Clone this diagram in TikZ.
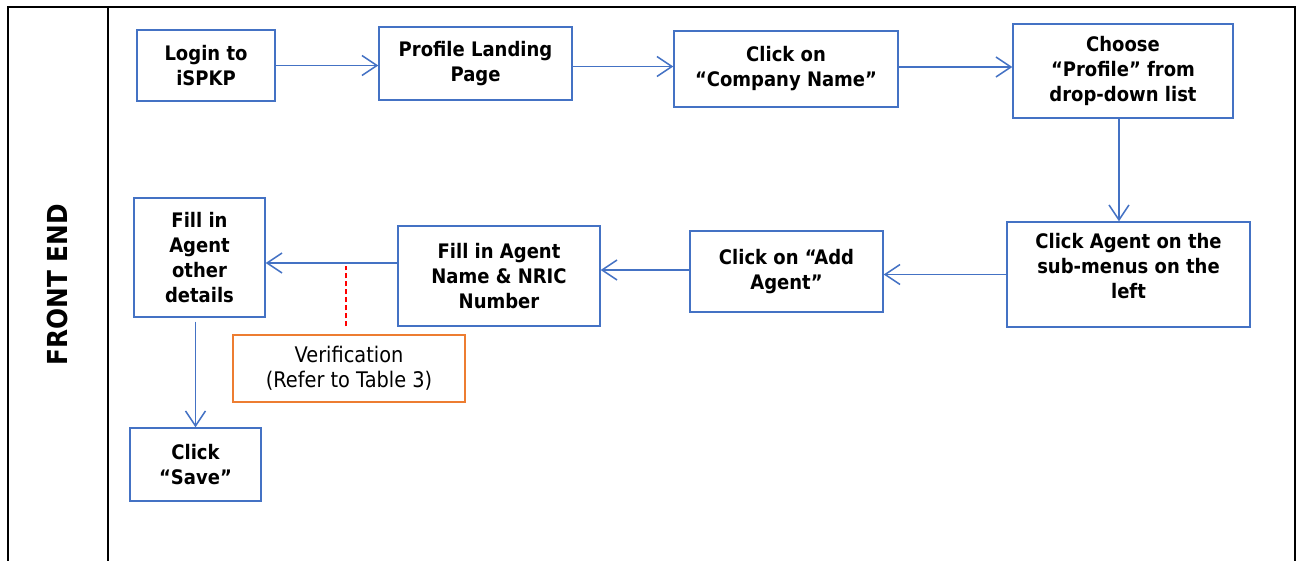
\documentclass[tikz,border=0pt]{standalone}
\usepackage{fontspec}
\setmainfont{DejaVu Sans}[FakeStretch=0.9]
\usetikzlibrary{arrows.meta,calc}
\definecolor{boxblue}{HTML}{4472C4}
\definecolor{noteorange}{HTML}{ED7D31}
\tikzset{
  frame/.style={line width=2.6pt, black},
  stepbox/.style={draw=boxblue, line width=1.4pt, align=center, inner sep=2pt,
    font=\fontsize{20}{25}\selectfont\bfseries},
  notebox/.style={draw=noteorange, line width=1.4pt, align=center, inner sep=2pt,
    font=\fontsize{21.5}{25}\selectfont},
  flow/.style={draw=boxblue, line width=1.5pt, -{Straight Barb[length=15pt,width=20pt,line width=1.5pt]}},
  reddash/.style={draw=red, line width=1.4pt, dash pattern=on 5pt off 3pt},
}
\begin{document}
\begin{tikzpicture}[x=1pt,y=-1pt]
\useasboundingbox (0,0) rectangle (1300,561);

% lane frame
\draw[frame] (8,561) -- (8,7) -- (1295,7) -- (1295,561);
\draw[frame] (108,7) -- (108,561);
\node[rotate=90, font=\fontsize{27.5}{30}\selectfont\bfseries] (lane) at (57,285) {FRONT END};

% process steps
\node[stepbox, minimum width=138pt, minimum height=71pt] (login) at (206,65.5) {Login to\\iSPKP};
\node[stepbox, minimum width=193pt, minimum height=73pt] (landing) at (475.5,63.5) {Profile Landing\\Page};
\node[stepbox, minimum width=224pt, minimum height=76pt] (company) at (786,69) {Click on\\“Company Name”};
\node[stepbox, minimum width=220pt, minimum height=94pt] (choose) at (1123,71) {Choose\\“Profile” from\\drop-down list};
\node[stepbox, minimum width=243pt, minimum height=105pt] (agentmenu) at (1128.5,274.5) {Click Agent on the\\sub-menus on the\\left\\[-8pt]};
\node[stepbox, minimum width=193pt, minimum height=81pt] (addagent) at (786.5,271.5) {Click on “Add\\Agent”};
\node[stepbox, minimum width=202pt, minimum height=100pt] (fillname) at (499,276) {Fill in Agent\\Name \& NRIC\\Number};
\node[stepbox, minimum width=131pt, minimum height=119pt] (fillother) at (199.5,257.5) {Fill in\\Agent\\other\\details};
\node[stepbox, minimum width=131pt, minimum height=73pt] (save) at (195.5,464.5) {Click\\“Save”};
\node[notebox, minimum width=232pt, minimum height=67pt] (verif) at (349,368.5) {Verification\\(Refer to Table 3)};

% connectors
\draw[flow] (login.east) -- (login.east -| landing.west);
\draw[flow] ([yshift=-3pt]landing.east) -- ([yshift=-3pt]landing.east -| company.west);
\draw[flow] ([yshift=2pt]company.east) -- ([yshift=2pt]company.east -| choose.west);
\draw[flow] ([xshift=-4pt]choose.south) -- ([xshift=-4pt]choose.south |- agentmenu.north);
\draw[flow] (agentmenu.west) -- (agentmenu.west -| addagent.east);
\draw[flow] ([yshift=1.5pt]addagent.west) -- ([yshift=1.5pt]addagent.west -| fillname.east);
\coordinate (namejoin) at ([yshift=13pt]fillname.west);
\draw[flow] (namejoin) -- (namejoin -| fillother.east);
\draw[flow, shorten <=4pt] (fillother.south -| save.north) -- (save.north);

% verification link
\coordinate (veriftop) at ([xshift=-3pt,yshift=8pt]verif.north);
\draw[reddash] (veriftop) -- ([yshift=-3pt]veriftop |- namejoin);
\end{tikzpicture}
\end{document}
